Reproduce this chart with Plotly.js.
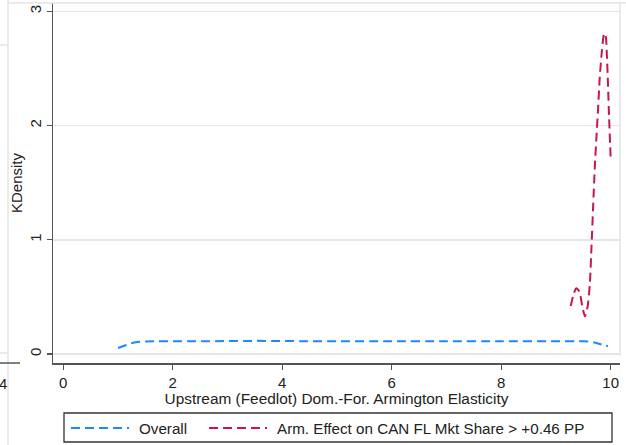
<!DOCTYPE html>
<html>
<head>
<meta charset="utf-8">
<script src="https://cdn.plot.ly/plotly-3.0.1.min.js"></script>
<style>
  html, body { margin: 0; padding: 0; background: #fff; }
  #chart { width: 626px; height: 445px; }
</style>
</head>
<body>
<div id="chart"></div>
<script>
// Kernel density of the upstream (feedlot) Armington elasticity, all draws
const overallX = [1.0, 1.1, 1.2, 1.3, 1.4, 1.5, 1.7, 2.0, 2.5, 3.0, 3.5, 4.0, 4.5, 5.0, 6.0, 7.0, 8.0, 9.0, 9.5, 9.6, 9.7, 9.8, 9.9, 9.95];
const overallY = [0.052, 0.070, 0.088, 0.100, 0.107, 0.110, 0.112, 0.112, 0.112, 0.113, 0.115, 0.114, 0.112, 0.112, 0.112, 0.112, 0.112, 0.112, 0.111, 0.108, 0.100, 0.088, 0.075, 0.068];

// Kernel density for draws where the Armington effect on the CAN feedlot share exceeds +0.46 pp
const subsetX = [9.27, 9.32, 9.37, 9.43, 9.48, 9.53, 9.58, 9.62, 9.65, 9.68, 9.71, 9.74, 9.77, 9.80, 9.84, 9.88, 9.91, 9.93, 9.95, 9.97, 10.0];
const subsetY = [0.42, 0.52, 0.575, 0.545, 0.42, 0.33, 0.42, 0.62, 0.95, 1.30, 1.64, 1.90, 2.15, 2.42, 2.66, 2.81, 2.78, 2.62, 2.37, 2.08, 1.71];

const seriesNames = ['Overall', 'Arm. Effect on CAN FL Mkt Share > +0.46 PP'];
const seriesColors = ['#1e88ff', '#c8174a'];
const xTicks = [0, 2, 4, 6, 8, 10];
const yTicks = [0, 1, 2, 3];

const FONT = 'Liberation Sans, Arial, sans-serif';
const DASH = '9px,5px';
const TXT = '#222';

const traces = [
  { x: overallX, y: overallY, name: seriesNames[0], mode: 'lines',
    line: { color: seriesColors[0], width: 2, dash: DASH, shape: 'spline', smoothing: 0.6 } },
  { x: subsetX, y: subsetY, name: seriesNames[1], mode: 'lines',
    line: { color: seriesColors[1], width: 2, dash: DASH, shape: 'spline', smoothing: 0.6 } }
];

// plot area in pixels: x 53..620, y 3..363
const L = 53, R = 620, T = 3, B = 363;
const W = R - L, H = B - T;
const px = v => (v - L) / W;
const py = v => (B - v) / H;

const frame = '#e4e4e4';
const shapes = [
  // light plot-region frame (top and right)
  { type: 'line', xref: 'paper', yref: 'paper', x0: px(8), x1: px(626), y0: py(3), y1: py(3), line: { color: frame, width: 1.5 } },
  { type: 'line', xref: 'paper', yref: 'paper', x0: 1, x1: 1, y0: py(356), y1: py(3), line: { color: frame, width: 1.5 } },
  // edge of the neighbouring panel on the left
  { type: 'line', xref: 'paper', yref: 'paper', x0: px(8), x1: px(8), y0: py(0), y1: py(445), line: { color: frame, width: 1.5 } },
  { type: 'line', xref: 'paper', yref: 'paper', x0: px(0), x1: px(8), y0: py(45), y1: py(45), line: { color: frame, width: 1.5 } },
  { type: 'line', xref: 'paper', yref: 'paper', x0: px(0), x1: px(8), y0: py(353), y1: py(353), line: { color: frame, width: 1.5 } },
  { type: 'line', xref: 'paper', yref: 'paper', x0: px(0), x1: px(20), y0: py(363), y1: py(363), line: { color: '#555', width: 1.5 } },
  // legend box and keys
  { type: 'rect', xref: 'paper', yref: 'paper', x0: px(64), x1: px(612), y0: py(442), y1: py(413), line: { color: '#333', width: 1.3 }, fillcolor: 'rgba(0,0,0,0)' },
  { type: 'line', xref: 'paper', yref: 'paper', x0: px(71), x1: px(129), y0: py(428), y1: py(428), line: { color: seriesColors[0], width: 2, dash: DASH } },
  { type: 'line', xref: 'paper', yref: 'paper', x0: px(209), x1: px(267), y0: py(428), y1: py(428), line: { color: seriesColors[1], width: 2, dash: DASH } }
];

const annotations = [
  { xref: 'paper', yref: 'paper', x: px(137), y: py(428), xanchor: 'left', yanchor: 'middle', showarrow: false,
    text: seriesNames[0], font: { family: FONT, size: 15.2, color: TXT } },
  { xref: 'paper', yref: 'paper', x: px(275), y: py(428), xanchor: 'left', yanchor: 'middle', showarrow: false,
    text: seriesNames[1], font: { family: FONT, size: 15.2, color: TXT } },
  { xref: 'paper', yref: 'paper', x: px(-3), y: py(383), xanchor: 'left', yanchor: 'middle', showarrow: false,
    text: '4', font: { family: FONT, size: 15, color: TXT } }
];

const layout = {
  width: 626, height: 445,
  margin: { l: L, r: 626 - R, t: T, b: 445 - B },
  paper_bgcolor: '#fff', plot_bgcolor: '#fff',
  showlegend: false,
  font: { family: FONT, size: 15, color: TXT },
  xaxis: {
    range: [-0.188, 10.17],
    tickvals: xTicks, ticktext: xTicks.map(String),
    ticks: 'outside', ticklen: 5, tickwidth: 1.3, tickcolor: '#555',
    showline: true, linecolor: '#555', linewidth: 1.5,
    showgrid: false, zeroline: false,
    tickfont: { family: FONT, size: 15, color: TXT },
    title: { text: 'Upstream (Feedlot) Dom.-For. Armington Elasticity', font: { family: FONT, size: 15.4, color: TXT }, standoff: 2 }
  },
  yaxis: {
    range: [-0.0788, 3.0735],
    tickvals: yTicks, ticktext: yTicks.map(String),
    tickangle: -90,
    ticks: 'outside', ticklen: 5, tickwidth: 1.3, tickcolor: '#555',
    showline: true, linecolor: '#555', linewidth: 1.5,
    showgrid: true, gridcolor: '#e6e6e6', gridwidth: 1.5, zeroline: false,
    tickfont: { family: FONT, size: 15, color: TXT },
    title: { text: 'KDensity', font: { family: FONT, size: 15, color: TXT }, standoff: 0 }
  },
  shapes: shapes,
  annotations: annotations
};

Plotly.newPlot('chart', traces, layout, { displayModeBar: false, staticPlot: true });
</script>
</body>
</html>
